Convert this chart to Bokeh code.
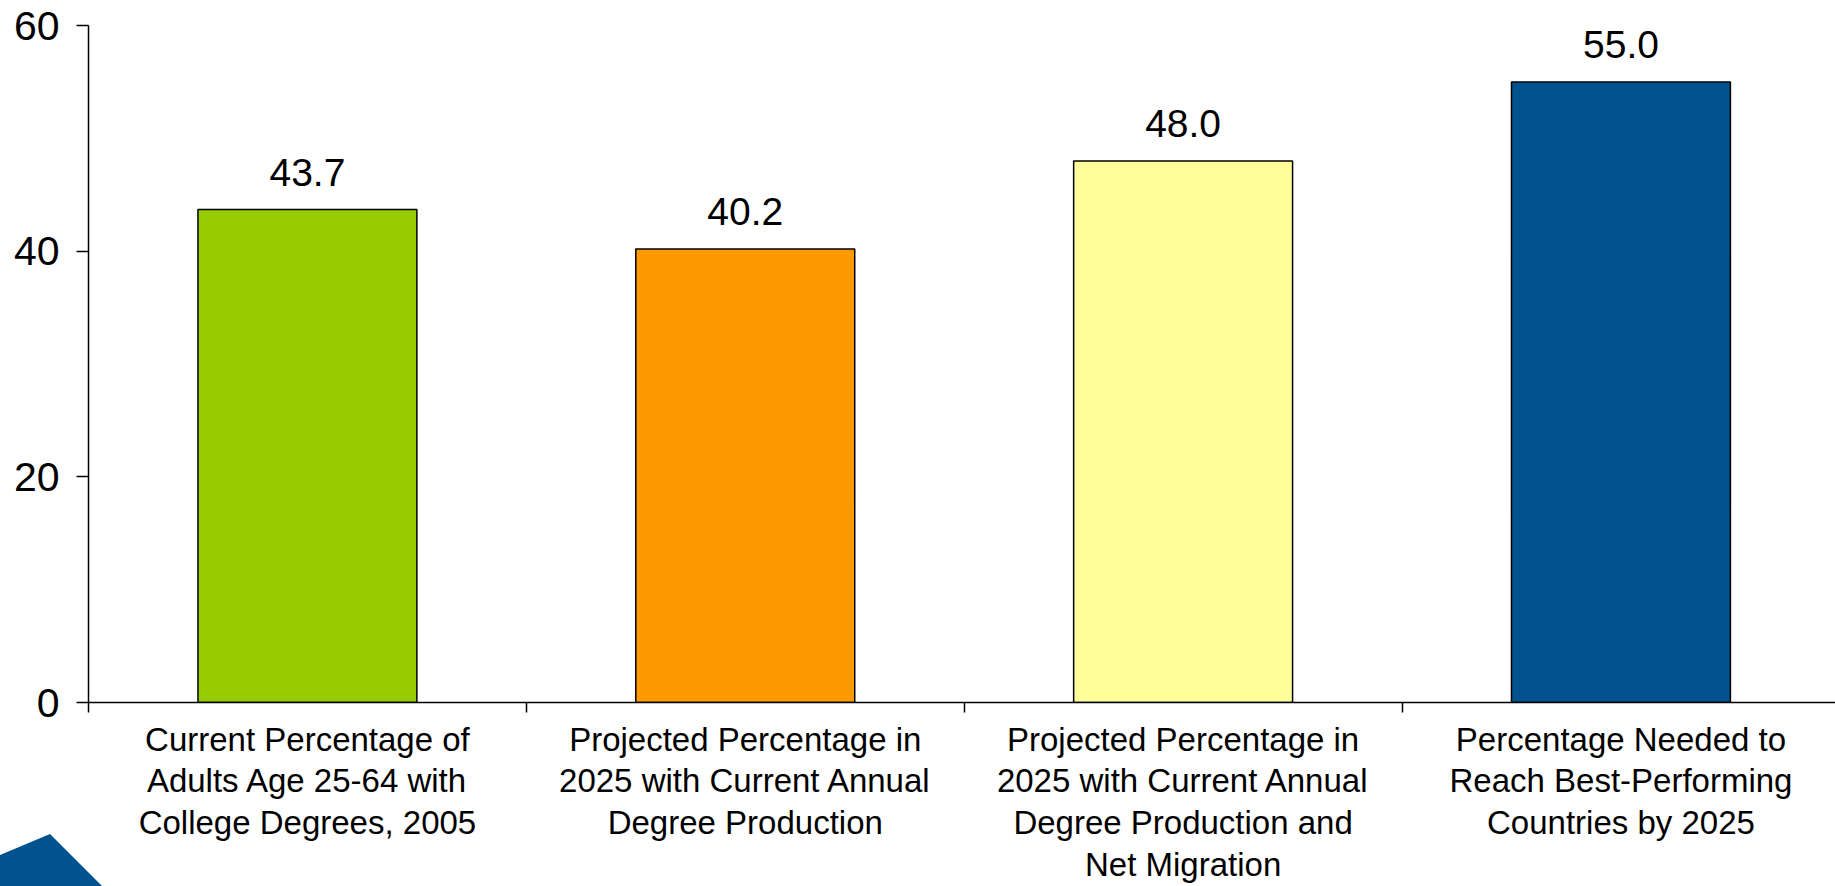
from bokeh.plotting import figure
from bokeh.models import (Range1d, FixedTicker, LinearAxis, ColumnDataSource,
                          InlineStyleSheet)
from bokeh.core.properties import value
from bokeh.embed import file_html
from bokeh.resources import INLINE

categories = [
    "Current Percentage of\nAdults Age 25-64 with\nCollege Degrees, 2005",
    "Projected Percentage in\n2025 with Current Annual\nDegree Production",
    "Projected Percentage in\n2025 with Current Annual\nDegree Production and\nNet Migration",
    "Percentage Needed to\nReach Best-Performing\nCountries by 2025",
]
percentages = [43.7, 40.2, 48.0, 55.0]
bar_colors = ["#99CC00", "#FF9900", "#FFFF99", "#02528F"]
y_ticks = [0, 20, 40, 60]

FONT = "Liberation Sans"

centers = [i + 0.5 for i in range(len(categories))]
boundaries = [float(i) for i in range(len(categories) + 1)]

src = ColumnDataSource(dict(
    x=centers,
    top=percentages,
    color=bar_colors,
    label=[f"{v:.1f}" for v in percentages],
))

p = figure(
    width=1835, height=886,
    x_range=Range1d(0, 3.99), y_range=Range1d(0, 60),
    output_backend="svg", toolbar_location=None,
    x_axis_type=None, y_axis_type=None,
    min_border_left=88, min_border_right=0,
    min_border_top=25, min_border_bottom=184,
)
p.outline_line_color = None
p.xgrid.grid_line_color = None
p.ygrid.grid_line_color = None
p.background_fill_color = "white"
p.border_fill_color = "white"

p.vbar(x="x", top="top", bottom=0, width=0.5, source=src,
       fill_color="color", line_color="black", line_width=1.5)

p.text(x="x", y="top", text="label", source=src,
       text_align="center", text_baseline="alphabetic", y_offset=-37,
       text_font=value(FONT), text_font_size="39px", text_color="black")

# y axis
yaxis = LinearAxis(ticker=FixedTicker(ticks=y_ticks))
yaxis.axis_line_color = "black"
yaxis.axis_line_width = 1.5
yaxis.major_tick_line_color = "black"
yaxis.major_tick_line_width = 1.5
yaxis.major_tick_out = 12
yaxis.major_tick_in = 0
yaxis.minor_tick_line_color = None
yaxis.major_label_standoff = 17
yaxis.major_label_text_font = FONT
yaxis.major_label_text_font_size = "41px"
yaxis.major_label_text_color = "black"
p.add_layout(yaxis, "left")

# x axis: labels at category centers, ticks at category boundaries
xaxis = LinearAxis(ticker=FixedTicker(ticks=centers, minor_ticks=boundaries))
xaxis.axis_line_color = "black"
xaxis.axis_line_width = 1.5
xaxis.major_tick_line_color = None
xaxis.major_tick_out = 0
xaxis.major_tick_in = 0
xaxis.minor_tick_line_color = "black"
xaxis.minor_tick_line_width = 1.5
xaxis.minor_tick_out = 10
xaxis.minor_tick_in = 0
xaxis.major_label_overrides = {c: lab for c, lab in zip(centers, categories)}
xaxis.major_label_standoff = 8
xaxis.major_label_text_font = FONT
xaxis.major_label_text_font_size = "33px"
xaxis.major_label_text_line_height = 1.13
xaxis.major_label_text_color = "black"
p.add_layout(xaxis, "below")

# decorative blue corner shape (cropped logo fragment in the bottom-left corner)
p.stylesheets = [InlineStyleSheet(css="""
:host { position: relative; }
:host::after {
  content: "";
  position: absolute;
  left: 0px;
  top: 826px;
  width: 110px;
  height: 60px;
  background: #02528F;
  clip-path: polygon(0px 29px, 50px 8px, 102px 60px, 0px 60px);
  pointer-events: none;
}
""")]

open("out.html", "w").write(file_html(p, INLINE))
